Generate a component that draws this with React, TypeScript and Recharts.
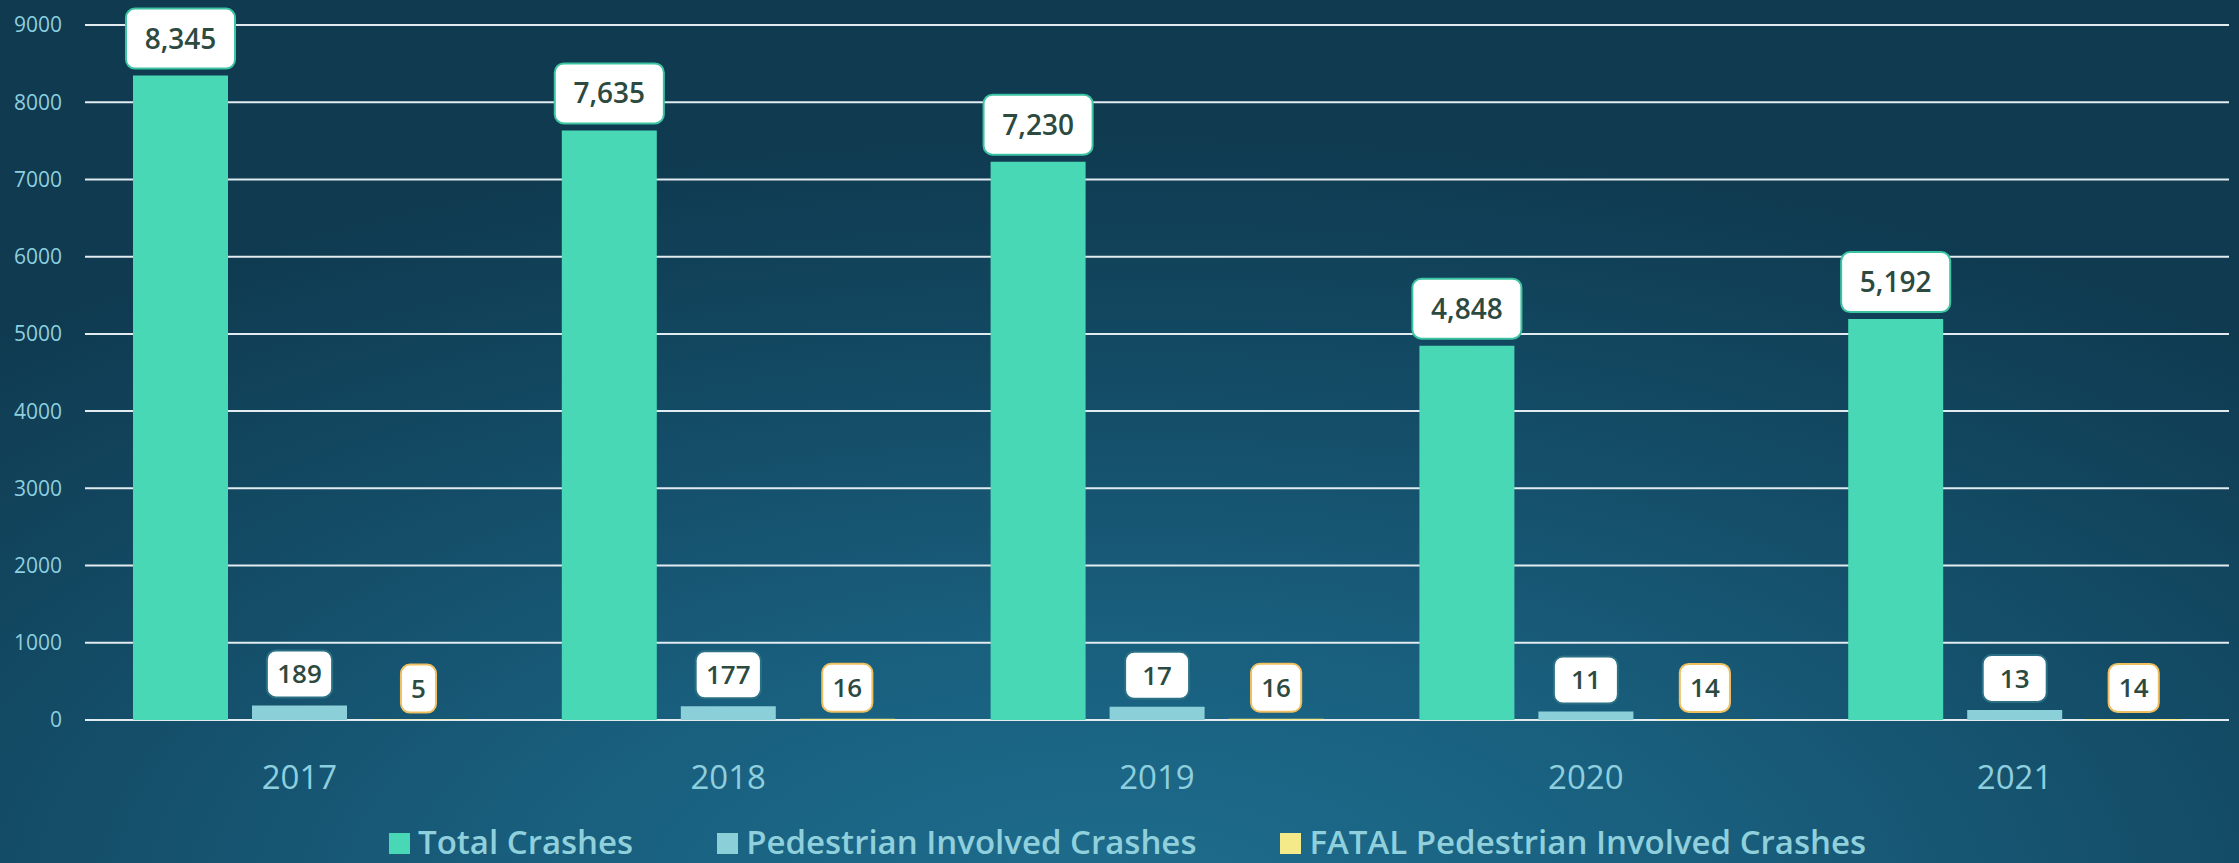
import { Bar, BarChart, CartesianGrid, LabelList, Legend, XAxis, YAxis } from "recharts";

const years = ["2017", "2018", "2019", "2020", "2021"];
const totalCrashes = [8345, 7635, 7230, 4848, 5192];
// bar heights as drawn; the typed labels on 2019-2021 differ from the bars
const pedCrashes = [189, 177, 170, 110, 130];
const pedLabels = ["189", "177", "17", "11", "13"];
const fatalPedCrashes = [5, 16, 16, 14, 14];
const yTicks = [0, 1000, 2000, 3000, 4000, 5000, 6000, 7000, 8000, 9000];

const data = years.map((year, i) => ({
  year,
  total: totalCrashes[i],
  ped: pedCrashes[i],
  fatal: fatalPedCrashes[i],
}));

const FONT = "'Open Sans', sans-serif";
const AXIS_TEXT = "#8ecfdf";

const legendItems = [
  { name: "Total Crashes", color: "#48d8b5" },
  { name: "Pedestrian Involved Crashes", color: "#8bcfd9" },
  { name: "FATAL Pedestrian Involved Crashes", color: "#f5ea8a" },
];

function textWidth(s: string, digitW: number) {
  let w = 0;
  for (const ch of s) w += ch === "," ? digitW * 0.5 : digitW;
  return w;
}

function boxLabel(opts: {
  texts?: string[];
  border: string;
  fontSize: number;
  h: number;
  pad: number;
  minW: number;
  gap: number;
}) {
  return (props: any) => {
    const { x, y, width, value, index } = props;
    const text = opts.texts ? opts.texts[index] : Number(value).toLocaleString("en-US");
    const w = Math.max(opts.minW, textWidth(text, opts.fontSize * 0.58) + opts.pad * 2);
    const cx = Number(x) + Number(width) / 2;
    const bottom = Number(y) - opts.gap;
    const top = bottom - opts.h;
    return (
      <g>
        <rect
          x={cx - w / 2}
          y={top}
          width={w}
          height={opts.h}
          rx={9}
          ry={9}
          fill="#ffffff"
          stroke={opts.border}
          strokeWidth={2}
        />
        <text
          x={cx}
          y={top + opts.h / 2 + opts.fontSize * 0.36}
          textAnchor="middle"
          fontFamily={FONT}
          fontWeight={600}
          fontSize={opts.fontSize}
          fill="#2d4a40"
        >
          {text}
        </text>
      </g>
    );
  };
}

function ChartLegend() {
  return (
    <div
      style={{
        height: 58,
        width: 2239,
        display: "flex",
        alignItems: "flex-end",
        paddingLeft: 389,
        paddingBottom: 5,
        boxSizing: "border-box",
        fontFamily: FONT,
        fontWeight: 600,
        fontSize: 33,
        lineHeight: "33px",
        color: "#8fd0dc",
      }}
    >
      {legendItems.map((item) => (
        <div key={item.name} style={{ display: "flex", alignItems: "flex-end", marginRight: 84 }}>
          <span
            style={{
              width: 21,
              height: 21,
              background: item.color,
              display: "inline-block",
              marginRight: 8,
              marginBottom: 4,
            }}
          />
          <span>{item.name}</span>
        </div>
      ))}
    </div>
  );
}

export default function App() {
  return (
    <div
      style={{
        position: "absolute",
        left: 0,
        top: 0,
        width: 2239,
        height: 863,
        overflow: "hidden",
        background:
          "radial-gradient(ellipse 75% 90% at 50% 105%, #1e6d8e 0%, #195f7e 35%, #134a64 70%, #0f3a50 100%)",
      }}
    >
      <BarChart
        width={2239}
        height={863}
        data={data}
        margin={{ top: 25, right: 10, bottom: 0, left: 0 }}
        barSize={95}
        barGap={24}
        barCategoryGap={48}
      >
        <CartesianGrid vertical={false} stroke="#e2ecf0" strokeWidth={2} />
        <XAxis
          dataKey="year"
          height={85}
          axisLine={false}
          tickLine={false}
          tickSize={0}
          tickMargin={46}
          tick={{ fill: AXIS_TEXT, fontSize: 33, fontFamily: FONT }}
        />
        <YAxis
          width={85}
          domain={[0, 9000]}
          ticks={yTicks}
          axisLine={false}
          tickLine={false}
          tickSize={0}
          tickMargin={23}
          tick={{ fill: AXIS_TEXT, fontSize: 21, fontFamily: FONT }}
        />
        <Legend
          verticalAlign="bottom"
          wrapperStyle={{ left: 0, width: 2239 }}
          content={() => <ChartLegend />}
        />
        <Bar dataKey="total" name="Total Crashes" fill="#48d8b5" isAnimationActive={false}>
          <LabelList
            dataKey="total"
            content={boxLabel({ border: "#3cc3a2", fontSize: 28, h: 60, pad: 18, minW: 64, gap: 7 })}
          />
        </Bar>
        <Bar dataKey="ped" name="Pedestrian Involved Crashes" fill="#8bcfd9" isAnimationActive={false}>
          <LabelList
            dataKey="ped"
            content={boxLabel({ texts: pedLabels, border: "#2b7085", fontSize: 26, h: 47, pad: 10, minW: 64, gap: 8 })}
          />
        </Bar>
        <Bar dataKey="fatal" name="FATAL Pedestrian Involved Crashes" fill="#f5ea8a" isAnimationActive={false}>
          <LabelList
            dataKey="fatal"
            content={boxLabel({ border: "#f0c060", fontSize: 26, h: 48, pad: 10, minW: 34, gap: 7 })}
          />
        </Bar>
      </BarChart>
    </div>
  );
}
